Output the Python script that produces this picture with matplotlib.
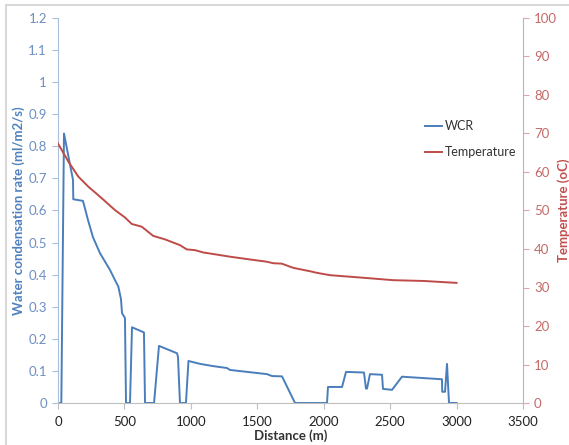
import matplotlib
matplotlib.use("Agg")
import matplotlib.pyplot as plt
from matplotlib.patches import Rectangle
from matplotlib.lines import Line2D

plt.rcParams['font.family'] = ['Lato', 'DejaVu Sans']

# Water condensation rate along the pipe
wcr_dist = [0, 25, 45, 113, 115, 188, 226, 263, 316, 391, 429, 454, 474, 482, 504,
            512, 542, 557, 647, 655, 723, 760, 896, 903, 918, 963, 982, 1069,
            1167, 1272, 1295, 1423, 1573, 1611, 1686, 1784, 2025, 2032, 2138,
            2168, 2303, 2318, 2326, 2348, 2439, 2446, 2514, 2589, 2890, 2892,
            2913, 2928, 2943, 3000]
wcr_vals = [0, 0, 0.84, 0.695, 0.635, 0.63, 0.57, 0.517, 0.467, 0.415, 0.383, 0.363,
            0.324, 0.28, 0.265, 0, 0, 0.236, 0.22, 0, 0, 0.178, 0.155, 0.144, 0,
            0, 0.131, 0.122, 0.115, 0.109, 0.103, 0.097, 0.09, 0.084, 0.083, 0,
            0, 0.05, 0.05, 0.097, 0.095, 0.045, 0.045, 0.09, 0.088, 0.044, 0.041,
            0.082, 0.074, 0.035, 0.035, 0.122, 0, 0]

# Fluid temperature along the pipe
temp_dist = [0, 78, 153, 228, 329, 429, 504, 555, 630, 717, 805, 918, 969, 1031,
             1094, 1295, 1420, 1571, 1621, 1684, 1771, 1900, 1950, 2047, 2273,
             2524, 2750, 3000]
temp_vals = [67.4, 62.7, 58.8, 56.2, 53.2, 50.1, 48.2, 46.5, 45.8, 43.4, 42.5, 41.0,
             39.9, 39.7, 39.1, 38.0, 37.4, 36.7, 36.3, 36.2, 35.1, 34.2, 33.8,
             33.2, 32.6, 31.9, 31.7, 31.2]

x_ticks = [0, 500, 1000, 1500, 2000, 2500, 3000, 3500]
wcr_ticks = [0, 0.1, 0.2, 0.3, 0.4, 0.5, 0.6, 0.7, 0.8, 0.9, 1, 1.1, 1.2]
temp_ticks = [0, 10, 20, 30, 40, 50, 60, 70, 80, 90, 100]

blue = '#4A7EBB'
red = '#BE4B48'
blue_txt = '#6D8FC0'
red_txt = '#C46A68'
blue_spine = '#A9C0DD'
red_spine = '#D9A7A6'

W, H = 569, 445
fig = plt.figure(figsize=(W / 100, H / 100), dpi=100)
fig.patch.set_facecolor('white')
fig.patches.append(Rectangle((6 / W, -0.05), 1.2, (H - 5) / H + 0.05,
                             transform=fig.transFigure, fill=False,
                             edgecolor='#D9D9D9', linewidth=1.5))

ax = fig.add_axes([58 / W, (H - 403) / H, (523 - 58) / W, (403 - 18) / H])
ax2 = ax.twinx()

ax.plot(wcr_dist, wcr_vals, color=blue, linewidth=1.4)
ax2.plot(temp_dist, temp_vals, color=red, linewidth=1.4)

ax.set_xlim(0, 3500)
ax.set_ylim(0, 1.2)
ax2.set_ylim(0, 100)
ax.set_xticks(x_ticks)
ax.set_xticklabels([str(t) for t in x_ticks])
ax.set_yticks(wcr_ticks)
ax.set_yticklabels(['0'] + [f'{t:g}' for t in wcr_ticks[1:]])
ax2.set_yticks(temp_ticks)

for a in (ax, ax2):
    a.spines['top'].set_visible(False)
ax.spines['right'].set_visible(False)
ax2.spines['left'].set_visible(False)
ax2.spines['bottom'].set_visible(False)
ax.spines['left'].set_color(blue_spine)
ax2.spines['right'].set_color(red_spine)
ax.spines['bottom'].set_color('#BFBFBF')

ax.tick_params(axis='y', colors=blue_spine, labelcolor=blue_txt, labelsize=9.5,
               length=4, direction='out', pad=4)
ax2.tick_params(axis='y', colors=red_spine, labelcolor=red_txt, labelsize=9.5,
                length=4, direction='out', pad=4)
ax.tick_params(axis='x', colors='#BFBFBF', labelcolor='#222222', labelsize=9.5,
               length=4, direction='out', pad=5)

ax.set_xlabel('Distance (m)', fontsize=9.5, fontweight='bold', color='#333333',
              labelpad=1)
ax.set_ylabel('Water condensation rate (ml/m2/s)', fontsize=9.5,
              fontweight='bold', color='#4F81BD', labelpad=2)
ax2.set_ylabel('Temperature (oC)', fontsize=9.5, fontweight='bold',
               color='#C0504D', labelpad=0)

handles = [Line2D([], [], color=blue, linewidth=1.4),
           Line2D([], [], color=red, linewidth=1.4)]
fig.legend(handles, ['WCR', 'Temperature'], loc='upper left',
           bbox_to_anchor=(414 / W, 1 - 109 / H), frameon=False,
           fontsize=9, handlelength=1.3, handletextpad=0.3,
           labelspacing=1.1, labelcolor='#333333')

fig.savefig('out.png', dpi=100, facecolor='white')
